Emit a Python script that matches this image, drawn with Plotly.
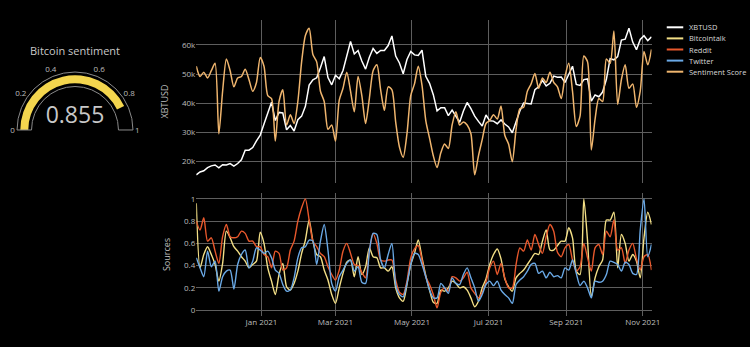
import pandas as pd
import plotly.graph_objects as go

# Sampling dates: every third day from 10 Nov 2020 to 8 Nov 2021
dates = pd.date_range("2020-11-10", periods=122, freq="3D")

# XBTUSD price (USD)
xbtusd = [
    15300, 16300, 16700, 17800, 18400, 18700, 17700, 18800, 18700, 19200,
    18300, 19200, 20500, 23800, 23800, 24700, 27000, 29000, 32800, 36800,
    40300, 34000, 36800, 36600, 30800, 32300, 30400, 34300, 35500, 38900,
    46200, 48000, 48700, 52200, 56000, 48800, 46300, 49600, 48400, 51200,
    55900, 61200, 56900, 58100, 54500, 51700, 55800, 58800, 57100, 58100,
    58100, 59800, 63100, 56200, 53800, 50100, 55000, 57800, 56600, 56400,
    58200, 49200, 46800, 42900, 37300, 38400, 38400, 35700, 37600, 35500,
    33400, 37300, 40200, 38100, 35500, 33700, 32100, 35900, 33900, 33800,
    32900, 34200, 32800, 31800, 29800, 33600, 37300, 40000, 39900, 39700,
    44600, 45600, 47800, 45900, 46800, 49300, 48900, 49000, 47100, 50000,
    52700, 46400, 46100, 48100, 48300, 40700, 42800, 42200, 43800, 48200,
    55300, 54900, 56000, 61700, 62000, 65800, 61000, 58400, 61900, 63200,
    61500, 62800,
]

# Combined sentiment score (normalised 0-1)
sentiment_score = [
    0.74, 0.67, 0.70, 0.66, 0.71, 0.76, 0.28, 0.57, 0.79, 0.71,
    0.60, 0.66, 0.67, 0.72, 0.65, 0.57, 0.63, 0.80, 0.74, 0.54,
    0.52, 0.23, 0.50, 0.58, 0.34, 0.41, 0.35, 0.50, 0.77, 0.95,
    1.00, 0.82, 0.77, 0.57, 0.50, 0.31, 0.34, 0.23, 0.51, 0.59,
    0.70, 0.57, 0.43, 0.67, 0.54, 0.35, 0.52, 0.71, 0.75, 0.58,
    0.44, 0.60, 0.58, 0.36, 0.19, 0.12, 0.28, 0.54, 0.62, 0.74,
    0.61, 0.37, 0.25, 0.13, 0.05, 0.15, 0.21, 0.18, 0.34, 0.43,
    0.34, 0.36, 0.34, 0.28, 0.00, 0.13, 0.24, 0.35, 0.37, 0.41,
    0.38, 0.47, 0.27, 0.21, 0.09, 0.31, 0.45, 0.46, 0.57, 0.62,
    0.69, 0.59, 0.66, 0.63, 0.70, 0.63, 0.60, 0.52, 0.67, 0.76,
    0.57, 0.33, 0.40, 0.81, 0.77, 0.17, 0.38, 0.52, 0.50, 0.79,
    0.76, 0.98, 0.48, 0.65, 0.75, 0.59, 0.62, 0.46, 0.57, 0.84,
    0.75, 0.855,
]

# Per-source sentiment (normalised 0-1)
bitcointalk = [
    0.96, 0.38, 0.50, 0.57, 0.50, 0.41, 0.26, 0.42, 0.71, 0.65,
    0.57, 0.53, 0.48, 0.44, 0.38, 0.41, 0.44, 0.70, 0.60, 0.38,
    0.26, 0.14, 0.32, 0.42, 0.21, 0.18, 0.24, 0.35, 0.51, 0.63,
    0.81, 0.62, 0.50, 0.48, 0.36, 0.27, 0.14, 0.06, 0.20, 0.33,
    0.43, 0.45, 0.30, 0.48, 0.32, 0.39, 0.56, 0.48, 0.47, 0.38,
    0.38, 0.35, 0.39, 0.20, 0.11, 0.08, 0.23, 0.41, 0.51, 0.63,
    0.47, 0.31, 0.18, 0.07, 0.06, 0.18, 0.17, 0.20, 0.26, 0.24,
    0.20, 0.21, 0.18, 0.11, 0.03, 0.08, 0.20, 0.28, 0.41, 0.50,
    0.55, 0.46, 0.28, 0.21, 0.17, 0.29, 0.33, 0.36, 0.41, 0.46,
    0.51, 0.50, 0.62, 0.72, 0.54, 0.54, 0.58, 0.62, 0.62, 0.74,
    0.65, 0.35, 0.32, 1.00, 0.62, 0.12, 0.29, 0.39, 0.45, 0.81,
    0.81, 0.88, 0.38, 0.68, 0.60, 0.44, 0.50, 0.44, 0.29, 0.65,
    0.88, 0.77,
]
reddit = [
    0.80, 0.72, 0.83, 0.62, 0.65, 0.53, 0.42, 0.66, 0.77, 0.66,
    0.65, 0.66, 0.71, 0.69, 0.62, 0.62, 0.57, 0.57, 0.50, 0.48,
    0.38, 0.53, 0.51, 0.36, 0.38, 0.54, 0.62, 0.80, 0.92, 1.00,
    0.81, 0.62, 0.57, 0.51, 0.48, 0.39, 0.32, 0.27, 0.36, 0.53,
    0.60, 0.51, 0.41, 0.40, 0.34, 0.29, 0.53, 0.69, 0.60, 0.45,
    0.44, 0.45, 0.45, 0.27, 0.16, 0.14, 0.26, 0.47, 0.55, 0.58,
    0.45, 0.30, 0.23, 0.14, 0.02, 0.16, 0.20, 0.17, 0.30, 0.29,
    0.26, 0.29, 0.34, 0.20, 0.15, 0.11, 0.16, 0.25, 0.38, 0.44,
    0.32, 0.42, 0.29, 0.20, 0.20, 0.41, 0.56, 0.53, 0.63, 0.54,
    0.68, 0.59, 0.51, 0.66, 0.77, 0.71, 0.52, 0.48, 0.56, 0.59,
    0.45, 0.35, 0.39, 0.60, 0.47, 0.35, 0.56, 0.59, 0.50, 0.71,
    0.66, 0.81, 0.54, 0.56, 0.42, 0.54, 0.60, 0.46, 0.36, 0.48,
    0.50, 0.36,
]
twitter = [
    0.47, 0.38, 0.30, 0.53, 0.39, 0.44, 0.17, 0.30, 0.35, 0.36,
    0.19, 0.41, 0.50, 0.54, 0.38, 0.44, 0.56, 0.54, 0.51, 0.53,
    0.47, 0.36, 0.33, 0.23, 0.17, 0.18, 0.29, 0.47, 0.56, 0.57,
    0.63, 0.62, 0.41, 0.62, 0.77, 0.54, 0.24, 0.17, 0.30, 0.36,
    0.42, 0.45, 0.35, 0.39, 0.25, 0.24, 0.53, 0.69, 0.68, 0.45,
    0.38, 0.50, 0.60, 0.23, 0.14, 0.12, 0.24, 0.41, 0.51, 0.50,
    0.41, 0.30, 0.18, 0.11, 0.11, 0.24, 0.20, 0.15, 0.29, 0.24,
    0.23, 0.32, 0.38, 0.29, 0.20, 0.08, 0.14, 0.23, 0.26, 0.22,
    0.26, 0.18, 0.14, 0.11, 0.06, 0.23, 0.27, 0.30, 0.35, 0.41,
    0.42, 0.33, 0.35, 0.29, 0.34, 0.30, 0.31, 0.29, 0.38, 0.36,
    0.45, 0.33, 0.22, 0.26, 0.20, 0.11, 0.26, 0.25, 0.26, 0.32,
    0.44, 0.43, 0.41, 0.35, 0.43, 0.41, 0.33, 0.32, 0.72, 1.00,
    0.48, 0.59,
]

gauge_value = 0.855
gauge_ticks = [0, 0.2, 0.4, 0.6, 0.8, 1]
month_tick_start = "2021-01-01"

names = ["XBTUSD", "Bitcointalk", "Reddit", "Twitter", "Sentiment Score"]
colors = ["#ffffff", "#f3df86", "#e8582c", "#6aa9e6", "#efb56e"]

BG = "#000000"
GRID = "#5e5e5e"
TXT = "#bdbdbd"
FONT = "Open Sans"

X_DOM = [0.2617, 0.8687]
TOP_DOM = [0.4726, 0.9424]
BOT_DOM = [0.0888, 0.4444]

fig = go.Figure()

fig.add_trace(go.Scatter(x=dates, y=xbtusd, name=names[0], mode="lines",
                         line=dict(color=colors[0], width=1.5),
                         xaxis="x", yaxis="y"))
for name, vals, col in zip(names[1:4], [bitcointalk, reddit, twitter], colors[1:4]):
    fig.add_trace(go.Scatter(x=dates, y=vals, name=name, mode="lines",
                             line=dict(color=col, width=1.4, shape="spline", smoothing=0.7),
                             xaxis="x2", yaxis="y2"))
fig.add_trace(go.Scatter(x=dates, y=sentiment_score, name=names[4], mode="lines",
                         line=dict(color=colors[4], width=1.5, shape="spline", smoothing=0.7),
                         xaxis="x", yaxis="y3"))

fig.add_trace(go.Indicator(
    mode="gauge+number",
    value=gauge_value,
    title=dict(text="Bitcoin sentiment", font=dict(size=11, color="#c8c8c8", family=FONT)),
    number=dict(font=dict(size=23, color="#c8c8c8", family=FONT), valueformat=".3f"),
    gauge=dict(
        axis=dict(range=[0, 1], tickvals=gauge_ticks, ticks="",
                  tickfont=dict(size=8, color=TXT, family=FONT)),
        bar=dict(color="#f4d64e", thickness=0.55),
        bgcolor=BG,
        borderwidth=1,
        bordercolor="#8a8a8a",
    ),
    domain=dict(x=[0.0227, 0.1773], y=[0.6254, 0.7925]),
))

axis_common = dict(showgrid=True, gridcolor=GRID, gridwidth=1, zeroline=False,
                   showline=False, ticks="", automargin=False,
                   tickfont=dict(size=8, color=TXT, family=FONT))

fig.update_layout(
    width=750, height=347,
    margin=dict(l=0, r=0, t=0, b=0),
    paper_bgcolor=BG, plot_bgcolor=BG,
    font=dict(family=FONT, color=TXT, size=8),
    showlegend=False,
    xaxis=dict(domain=X_DOM, anchor="y", matches="x2", showticklabels=False,
               dtick="M2", tick0=month_tick_start, **axis_common),
    xaxis2=dict(domain=X_DOM, anchor="y2", dtick="M2", tick0=month_tick_start,
                tickformat="%b %Y", **axis_common),
    yaxis=dict(domain=TOP_DOM, anchor="x", dtick=10000,
               title=dict(text="XBTUSD", font=dict(size=9, color=TXT, family=FONT), standoff=11),
               **axis_common),
    yaxis3=dict(overlaying="y", anchor="x", side="right", visible=False),
    yaxis2=dict(domain=BOT_DOM, anchor="x2", range=[-0.055, 1.055], dtick=0.2,
                title=dict(text="Sources", font=dict(size=9, color=TXT, family=FONT), standoff=11),
                **axis_common),
)

# Compact legend drawn as swatches with labels
leg_x0, leg_x1, leg_tx = 0.889, 0.911, 0.916
leg_top, leg_step = 1 - 27.3 / 347, 11.1 / 347
for i, (name, col) in enumerate(zip(names, colors)):
    yy = leg_top - i * leg_step
    fig.add_shape(type="line", xref="paper", yref="paper",
                  x0=leg_x0, x1=leg_x1, y0=yy, y1=yy,
                  line=dict(color=col, width=2))
    fig.add_annotation(x=leg_tx, y=yy, xref="paper", yref="paper",
                       text=name, showarrow=False, xanchor="left", yanchor="middle",
                       font=dict(size=7.5, color="#d8d8d8", family=FONT))

fig.write_html("out.html")
